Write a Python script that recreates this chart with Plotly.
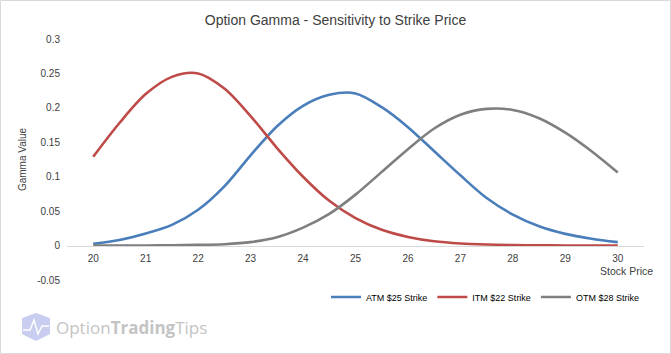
import plotly.graph_objects as go

stock_price = [20, 20.5, 21, 21.5, 22, 22.5, 23, 23.5, 24, 24.5, 25,
               25.5, 26, 26.5, 27, 27.5, 28, 28.5, 29, 29.5, 30]
atm_25 = [0.0025, 0.008, 0.0174, 0.030, 0.052, 0.086, 0.131, 0.173, 0.203, 0.219, 0.221,
          0.201, 0.172, 0.137, 0.102, 0.069, 0.045, 0.028, 0.017, 0.010, 0.005]
itm_22 = [0.129, 0.178, 0.220, 0.245, 0.250, 0.228, 0.188, 0.142, 0.100, 0.065, 0.040,
          0.023, 0.0126, 0.0062, 0.003, 0.0015, 0.0008, 0.0004, 0.0002, 0.0001, 0.0001]
otm_28 = [0.0, 0.0001, 0.0002, 0.0005, 0.001, 0.002, 0.005, 0.012, 0.026, 0.046, 0.074,
          0.107, 0.140, 0.170, 0.190, 0.1985, 0.197, 0.185, 0.164, 0.137, 0.106]
y_ticks = [-0.05, 0, 0.05, 0.1, 0.15, 0.2, 0.25, 0.3]
y_tick_labels = ["-0.05", "0", "0.05", "0.1", "0.15", "0.2", "0.25", "0.3"]
x_ticks = [20, 21, 22, 23, 24, 25, 26, 27, 28, 29, 30]

W, H = 671, 354
L, R, T, B = 67, 27, 39, 74
pw, ph = W - L - R, H - T - B

def px_x(p):
    return (p - L) / pw

def px_y(p):
    return (H - B - p) / ph

FONT = "Liberation Sans"
TXT = "#404040"

fig = go.Figure()
for name, vals, col in [("ATM $25 Strike", atm_25, "#4a7ebb"),
                        ("ITM $22 Strike", itm_22, "#be4b48"),
                        ("OTM $28 Strike", otm_28, "#7f7f7f")]:
    fig.add_trace(go.Scatter(x=stock_price, y=vals, name=name, mode="lines",
                             line=dict(color=col, width=2.6, shape="spline", smoothing=0.9)))

fig.update_layout(
    width=W, height=H,
    margin=dict(l=L, r=R, t=T, b=B),
    paper_bgcolor="white", plot_bgcolor="white",
    font=dict(family=FONT, size=10, color=TXT),
    title=dict(text="Option Gamma - Sensitivity to Strike Price", x=0.5, xanchor="center",
               y=1 - 20 / H, yanchor="middle", font=dict(size=14, color=TXT)),
    showlegend=True,
    legend=dict(orientation="h", x=px_x(326), xanchor="left", y=px_y(297), yanchor="middle",
                font=dict(size=9, color="#000000"), itemwidth=30, tracegroupgap=0,
                bgcolor="rgba(0,0,0,0)"),
    xaxis=dict(range=[19.5, 30.5], tickvals=x_ticks, showgrid=False, zeroline=False,
               showline=True, linecolor="#d9d9d9", linewidth=1,
               anchor="free", position=px_y(246), ticks="", ticklabelstandoff=3,
               tickfont=dict(size=10, color=TXT)),
    yaxis=dict(range=[-0.05, 0.3], tickvals=y_ticks, ticktext=y_tick_labels, showgrid=False,
               zeroline=False, showline=False, ticks="", ticklabelstandoff=6,
               tickfont=dict(size=10, color=TXT),
               title=dict(text="Gamma Value", font=dict(size=10, color=TXT), standoff=8)),
)

fig.add_annotation(text="Stock Price", x=px_x(655), y=px_y(271), xref="paper", yref="paper",
                   xanchor="right", yanchor="middle", showarrow=False,
                   font=dict(size=10.5, color=TXT))

# watermark
fig.add_annotation(text="Option<b>Trading</b>Tips", x=px_x(54), y=px_y(327), xref="paper", yref="paper",
                   xanchor="left", yanchor="middle", showarrow=False,
                   font=dict(size=17, color="#c4c4c4", family="Open Sans"))
fig.add_shape(type="path", xref="paper", yref="paper",
              path=f"M {px_x(22)} {px_y(318)} L {px_x(36)} {px_y(313)} L {px_x(50)} {px_y(318)} "
                   f"L {px_x(50)} {px_y(334)} L {px_x(36)} {px_y(341)} L {px_x(22)} {px_y(334)} Z",
              fillcolor="#c9cdf0", line=dict(width=0), layer="below")
fig.add_shape(type="path", xref="paper", yref="paper",
              path=f"M {px_x(23)} {px_y(330)} L {px_x(30)} {px_y(330)} L {px_x(34)} {px_y(320)} "
                   f"L {px_x(38)} {px_y(334)} L {px_x(42)} {px_y(326)} L {px_x(49)} {px_y(326)}",
              line=dict(color="white", width=1.5), layer="above")

# border
fig.add_shape(type="rect", xref="paper", yref="paper", x0=px_x(0.5), x1=px_x(W - 0.5),
              y0=px_y(H - 0.5), y1=px_y(0.5), line=dict(color="#d9d9d9", width=1))

fig.write_html("out.html")
